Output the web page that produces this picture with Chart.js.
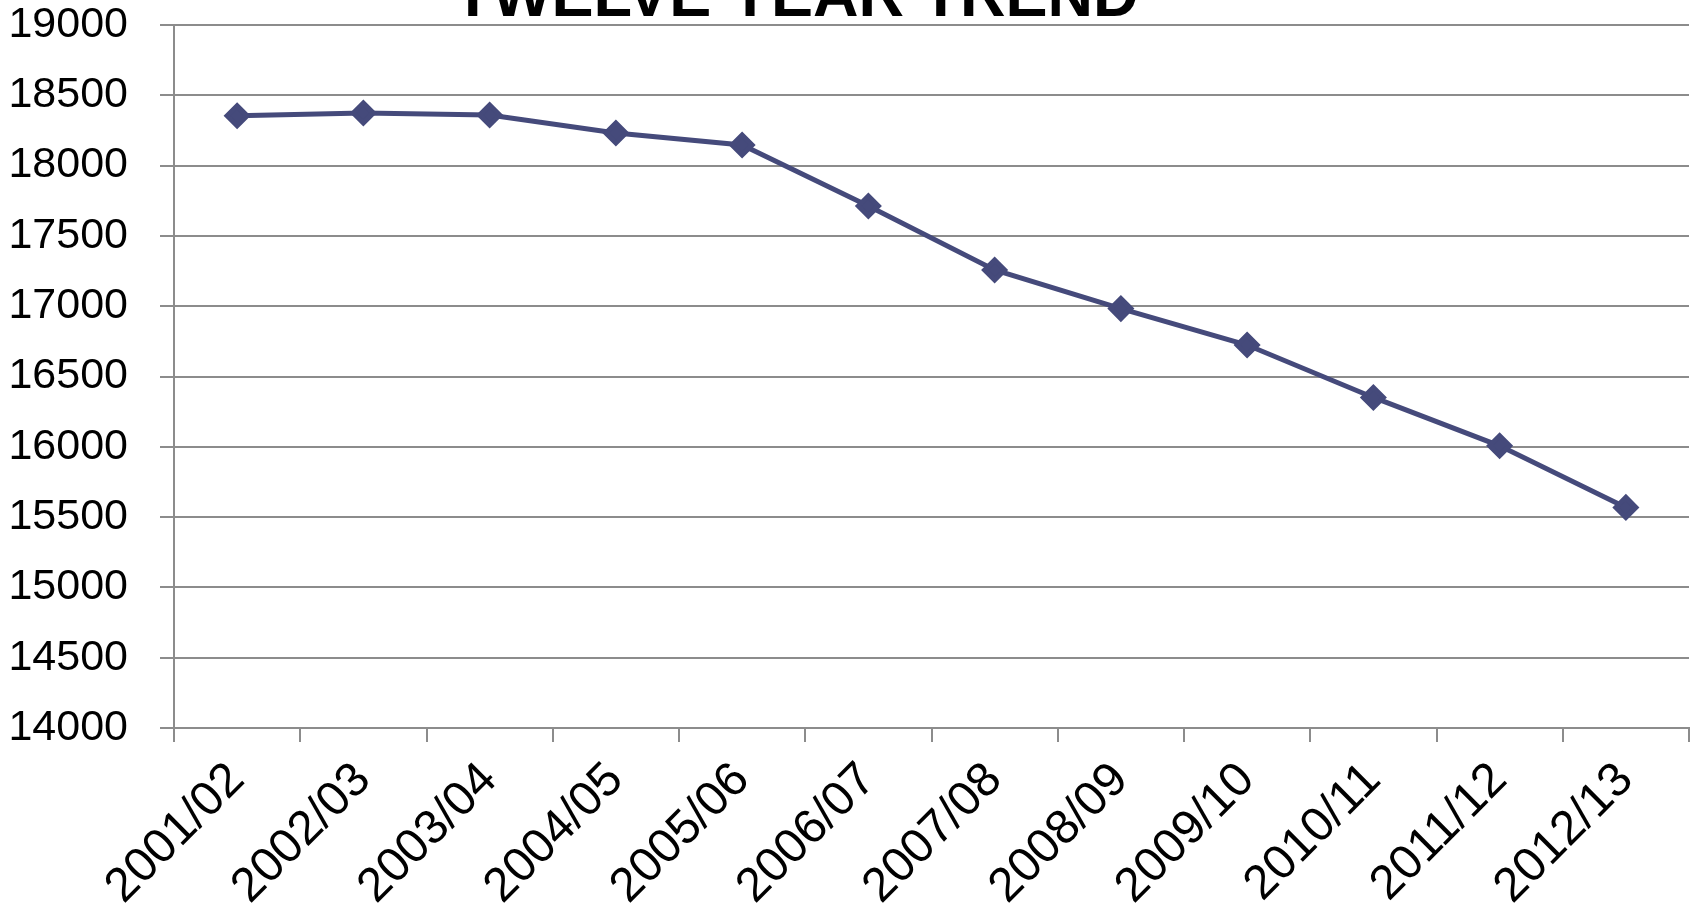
<!DOCTYPE html>
<html>
<head>
<meta charset="utf-8">
<script src="https://cdn.jsdelivr.net/npm/chart.js@4"></script>
<style>
    html, body { margin: 0; padding: 0; background: #fff; overflow: hidden; }
    #wrap { position: relative; width: 1698px; height: 910px; }
</style>
</head>
<body>
<div id="wrap"><canvas id="c"></canvas></div>
<script>
const years = ['2001/02', '2002/03', '2003/04', '2004/05', '2005/06', '2006/07',
    '2007/08', '2008/09', '2009/10', '2010/11', '2011/12', '2012/13'];
const totals = [18355, 18374, 18360, 18232, 18147, 17713, 17258, 16983, 16724, 16351, 16007, 15569];
const yMin = 14000;
const yMax = 19000;
const yStep = 500;
const heading = 'TWELVE YEAR TREND';

// heading sits just above the plot, partly cut by the top edge
const headingPlugin = {
    id: 'heading',
    afterDraw(chart) {
        const ctx = chart.ctx;
        ctx.save();
        ctx.fillStyle = '#000';
        ctx.font = 'bold 63px "Liberation Sans", Arial, sans-serif';
        ctx.textAlign = 'center';
        ctx.textBaseline = 'alphabetic';
        ctx.fillText(heading, 796, chart.chartArea.top - 9);
        ctx.restore();
    }
};

const ctx = document.getElementById('c').getContext('2d');
const chart = new Chart(ctx, {
    type: 'line',
    data: {
        labels: years,
        datasets: [{
            data: totals,
            borderColor: '#454a7b',
            backgroundColor: '#454a7b',
            borderWidth: 5,
            pointStyle: 'rectRot',
            pointRadius: 10,
            pointHoverRadius: 10,
            tension: 0
        }]
    },
    options: {
        responsive: true,
        maintainAspectRatio: false,
        animation: false,
        layout: {
            autoPadding: false,
            padding: { left: 9, right: 9, top: 25, bottom: 0 }
        },
        scales: {
            x: {
                offset: true,
                grid: {
                    offset: true,
                    drawOnChartArea: false,
                    color: '#8c8c8c',
                    lineWidth: 2,
                    tickLength: 14
                },
                border: { display: true, color: '#8c8c8c', width: 2 },
                ticks: {
                    color: '#000',
                    font: { family: '"Liberation Sans", Arial, sans-serif', size: 48 },
                    minRotation: 45,
                    maxRotation: 45,
                    padding: 10,
                    autoSkip: false
                },
                afterFit(scale) {
                    // rotated labels may hang past the plot edges
                    scale.height = 182;
                    scale.paddingLeft = 0;
                    scale.paddingRight = 0;
                }
            },
            y: {
                min: yMin,
                max: yMax,
                grid: {
                    color: '#8c8c8c',
                    lineWidth: 2,
                    tickLength: 14
                },
                border: { display: true, color: '#8c8c8c', width: 2 },
                ticks: {
                    stepSize: yStep,
                    color: '#000',
                    padding: 32,
                    font: { family: '"Liberation Sans", Arial, sans-serif', size: 43 },
                    callback: v => String(v)
                },
                afterFit(scale) {
                    scale.width = 165;
                    scale.paddingTop = 0;
                    scale.paddingBottom = 0;
                }
            }
        },
        plugins: {
            legend: { display: false },
            title: { display: false },
            tooltip: { enabled: false }
        }
    },
    plugins: [headingPlugin]
});
</script>
</body>
</html>
